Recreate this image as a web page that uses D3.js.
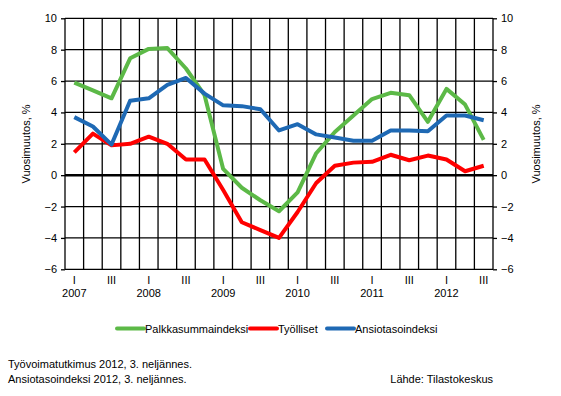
<!DOCTYPE html>
<html><head><meta charset="utf-8">
<script src="https://cdn.jsdelivr.net/npm/d3@7"></script>
<style>body{margin:0;background:#fff}svg{display:block}text{font-family:"Liberation Sans",Arial,sans-serif;font-size:11px;fill:#000}</style>
</head><body><svg id="c" width="561" height="396"></svg>
<script>
const quarters = ["2007Q1","2007Q2","2007Q3","2007Q4","2008Q1","2008Q2","2008Q3","2008Q4","2009Q1","2009Q2","2009Q3","2009Q4","2010Q1","2010Q2","2010Q3","2010Q4","2011Q1","2011Q2","2011Q3","2011Q4","2012Q1","2012Q2","2012Q3"];
const palkkasumma = [5.9,5.4,4.9,7.45,8.05,8.1,6.8,5.1,0.4,-0.8,-1.6,-2.3,-1.1,1.4,2.75,3.8,4.85,5.25,5.1,3.4,5.5,4.5,2.25];
const tyolliset = [1.45,2.65,1.9,2.0,2.45,2.0,1.0,1.0,-0.95,-3.0,-3.5,-4.0,-2.35,-0.5,0.6,0.8,0.85,1.3,0.95,1.25,1.0,0.25,0.6];
const ansiotaso = [3.7,3.1,1.95,4.75,4.9,5.75,6.2,5.2,4.45,4.4,4.2,2.85,3.25,2.6,2.4,2.2,2.2,2.85,2.85,2.8,3.8,3.8,3.5];
const yTicks = [-6,-4,-2,0,2,4,6,8,10];
const seriesNames = ["Palkkasummaindeksi","Työlliset","Ansiotasoindeksi"];
const colors = ["#5cb947","#ff0000","#1e69b4"];
const series = [palkkasumma, tyolliset, ansiotaso];

const svg = d3.select("#c");
const L=65, R=493, T=18.3, B=269.3;
const x = d3.scaleBand().domain(quarters).range([L,R]);
const y = d3.scaleLinear().domain([-6,10]).range([B,T]);

// vertical grid
const bounds = quarters.map(q=>x(q)).concat([R]);
svg.append("g").selectAll("line").data(bounds).join("line")
  .attr("x1",d=>d).attr("x2",d=>d).attr("y1",T).attr("y2",B)
  .attr("stroke","#000").attr("stroke-width",1.3);
// horizontal grid
svg.append("g").selectAll("line").data(yTicks).join("line")
  .attr("x1",L).attr("x2",R).attr("y1",d=>y(d)).attr("y2",d=>y(d))
  .attr("stroke","#000").attr("stroke-width",d=>d===0?2.4:1.3);

// axes
const yl = svg.append("g").attr("transform",`translate(${L},0)`).call(d3.axisLeft(y).tickValues(yTicks).tickSize(4).tickPadding(4).tickFormat(d3.format("d")));
const yr = svg.append("g").attr("transform",`translate(${R},0)`).call(d3.axisRight(y).tickValues(yTicks).tickSize(4).tickPadding(4).tickFormat(d3.format("d")));
[yl,yr].forEach(g=>{g.select(".domain").remove();g.selectAll("line").attr("stroke","#000").attr("stroke-width",1.3);g.selectAll("text").attr("font-size",11).attr("font-family","Liberation Sans, Arial, sans-serif");});

// x labels
const roman = q=>q.endsWith("Q1")?"I":(q.endsWith("Q3")?"III":"");
svg.append("g").selectAll("text").data(quarters.filter(q=>roman(q))).join("text")
  .attr("x",d=>x(d)+x.bandwidth()/2).attr("y",284).attr("text-anchor","middle").text(d=>roman(d));
svg.append("g").selectAll("text").data(quarters.filter(q=>q.endsWith("Q1"))).join("text")
  .attr("x",d=>x(d)+x.bandwidth()/2).attr("y",297).attr("text-anchor","middle").text(d=>d.slice(0,4));

// axis titles
svg.append("text").attr("transform","translate(30,144) rotate(-90)").attr("text-anchor","middle").text("Vuosimuutos, %");
svg.append("text").attr("transform","translate(540,144) rotate(-90)").attr("text-anchor","middle").text("Vuosimuutos, %");

// lines
const line = d3.line().x((d,i)=>x(quarters[i])+x.bandwidth()/2).y(d=>y(d));
series.forEach((s,i)=>{
  svg.append("path").datum(s).attr("d",line).attr("fill","none")
    .attr("stroke",colors[i]).attr("stroke-width",4).attr("stroke-linejoin","round");
});

// legend
const lx = [117,250,327];
seriesNames.forEach((n,i)=>{
  svg.append("line").attr("x1",lx[i]).attr("x2",lx[i]+27).attr("y1",328.5).attr("y2",328.5)
    .attr("stroke",colors[i]).attr("stroke-width",4).attr("stroke-linecap","round");
  svg.append("text").attr("x",lx[i]+28).attr("y",332.5).text(n);
});

// footnotes
svg.append("text").attr("x",8).attr("y",368).text("Työvoimatutkimus 2012, 3. neljännes.");
svg.append("text").attr("x",8).attr("y",383).text("Ansiotasoindeksi 2012, 3. neljännes.");
svg.append("text").attr("x",493).attr("y",383).attr("text-anchor","end").text("Lähde: Tilastokeskus");
</script></body></html>
